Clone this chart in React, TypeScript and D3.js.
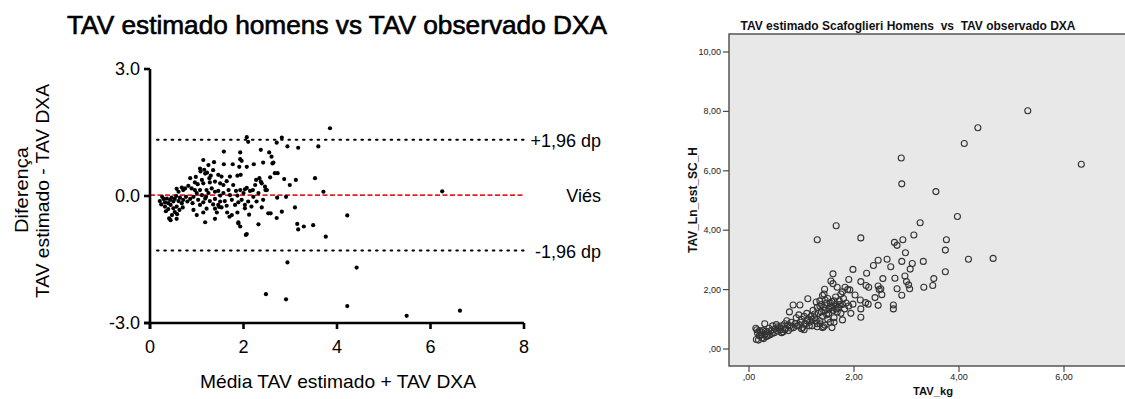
import React from "react";
import * as d3 from "d3";

// Bland-Altman: mean of the two measures (x) vs difference (y)
const blandAltmanPoints: [number, number][] = [
  [3.85, 1.6], [2.82, 1.38], [2.71, 1.26], [2.94, 1.17], [3.17, 1.14], [3.6, 1.17], [2.37, 1.09],
  [2.55, 1.03], [2.6, 0.93], [2.42, 0.79], [2.62, 0.77], [2.67, 0.54], [2.73, 0.54], [2.57, 0.44],
  [2.87, 0.4], [3.12, 0.38], [3.53, 0.42], [2.99, 0.26], [2.37, 0.34], [2.46, 0.22], [2.47, 0.14],
  [3.71, 0.1], [2.72, -0.04], [2.91, -0.02], [2.39, -0.27], [3.1, -0.27], [2.58, -0.41], [2.82, -0.37],
  [2.71, -0.52], [4.22, -0.46], [3.15, -0.66], [3.17, -0.79], [3.29, -0.72], [3.49, -0.69], [3.76, -0.96],
  [2.94, -1.57], [4.42, -1.69], [2.48, -2.32], [2.91, -2.44], [4.22, -2.6], [5.49, -2.83], [6.63, -2.71],
  [6.25, 0.11], [2.64, 0.79], [2.34, 0.42], [2.25, 0.26], [2.2, 0.14], [2.03, -0.29], [1.89, -0.65],
  [2.05, -0.92], [2.32, -0.67], [2.07, 1.39], [2.1, 1.28],
  [1.58, 1.05], [1.93, 1.03], [1.14, 0.85], [1.37, 0.8], [1.25, 0.73], [1.58, 0.75], [1.77, 0.75],
  [1.93, 0.87], [1.96, 0.83], [1.91, 0.69], [2.07, 0.69], [2.22, 0.75], [1.07, 0.65], [1.08, 0.58],
  [1.18, 0.53], [1.35, 0.61], [1.46, 0.5], [1.53, 0.46], [1.71, 0.46], [1.87, 0.48], [1.94, 0.5],
  [0.86, 0.42], [0.96, 0.32], [1.11, 0.38], [1.14, 0.3], [1.27, 0.42], [1.28, 0.32], [1.39, 0.34],
  [1.5, 0.3], [1.57, 0.26], [1.64, 0.35], [1.78, 0.26], [1.93, 0.14], [2.03, 0.16], [2.07, 0.19],
  [2.39, 0.3], [2.27, 0.38], [0.68, 0.2], [0.71, 0.14], [0.75, 0.18], [0.82, 0.24], [0.89, 0.18],
  [0.57, 0.17], [0.61, 0.1], [0.96, 0.14], [1.0, 0.07], [1.07, 0.14], [1.11, 0.02], [1.21, 0.14],
  [1.25, 0.07], [1.2, -0.02], [1.32, 0.18], [1.39, 0.1], [1.46, 0.12], [1.5, 0.01], [1.57, 0.07],
  [1.68, 0.14], [1.71, 0.02], [1.84, 0.12], [1.87, 0.01], [2.0, 0.07], [2.14, 0.12], [2.21, -0.02],
  [2.32, 0.07], [2.5, 0.14], [0.29, -0.07], [0.32, -0.15], [0.36, -0.06], [0.39, -0.17], [0.43, -0.09],
  [0.46, -0.04], [0.5, -0.13], [0.53, -0.07], [0.56, 0.0], [0.61, -0.12], [0.64, -0.04], [0.68, -0.17],
  [0.71, -0.09], [0.77, -0.02], [0.8, -0.13], [0.86, -0.07], [0.91, -0.17], [0.93, -0.02], [1.03, -0.09],
  [1.07, -0.21], [1.14, -0.15], [1.18, -0.06], [1.28, -0.12], [1.35, -0.2], [1.39, -0.07], [1.46, -0.21],
  [1.5, -0.13], [1.53, -0.27], [1.6, -0.12], [1.64, -0.23], [1.75, -0.09], [1.82, -0.21], [1.89, -0.15],
  [1.96, -0.09], [2.03, -0.21], [2.1, -0.13], [2.17, -0.25], [2.28, -0.13], [2.42, -0.09], [0.32, -0.25],
  [0.39, -0.31], [0.44, -0.21], [0.5, -0.29], [0.57, -0.25], [0.63, -0.33], [0.7, -0.27], [0.53, -0.38],
  [0.58, -0.43], [0.41, -0.53], [0.44, -0.57], [0.57, -0.54], [0.93, -0.33], [1.0, -0.45], [1.14, -0.39],
  [1.21, -0.3], [1.39, -0.3], [1.43, -0.39], [1.48, -0.26], [1.39, -0.54], [1.18, -0.62], [1.65, -0.39],
  [1.7, -0.49], [1.87, -0.39], [1.89, -0.62], [1.93, -0.72], [2.07, -0.9], [2.12, -0.44], [1.75, -0.45],
  [2.53, -0.41], [0.21, -0.12], [0.24, -0.2], [0.26, -0.02], [0.34, -0.36], [0.47, -0.45], [0.98, 0.45],
  [1.02, 0.28], [1.22, 0.55], [1.3, 0.48], [1.16, 0.62],
];

const bias = 0.02;
const upperLimit = 1.33;
const lowerLimit = -1.29;
const baXTicks = [0, 2, 4, 6, 8];
const baYTicks = [-3, 0, 3];
const limitLabels = ["+1,96 dp", "Viés", "-1,96 dp"];

// Scatter: observed TAV (x) vs estimated TAV (y)
const scatterPoints: [number, number][] = [
  [5.31, 8.02], [4.36, 7.45], [4.1, 6.92], [6.33, 6.22], [2.9, 6.43], [2.91, 5.56], [3.56, 5.3],
  [3.97, 4.46], [3.26, 4.25], [1.66, 4.15], [1.3, 3.68], [2.13, 3.74], [3.14, 3.84], [2.93, 3.68],
  [2.77, 3.59], [2.82, 3.49], [3.76, 3.68], [3.74, 3.33], [2.98, 3.24], [4.18, 3.02], [4.65, 3.05],
  [3.74, 2.6], [3.32, 2.95], [2.63, 3.02], [2.46, 2.99], [2.37, 2.81], [2.7, 2.77], [2.91, 2.95],
  [3.11, 2.88], [3.07, 2.69], [1.98, 2.68], [3.52, 2.37], [3.5, 2.14], [3.33, 2.08], [2.97, 2.46],
  [3.0, 2.27], [3.04, 2.16], [3.06, 2.03], [2.91, 1.81], [2.78, 2.38], [2.82, 2.03], [2.75, 1.48],
  [2.75, 1.35], [2.55, 2.37], [2.53, 1.83], [2.51, 2.03], [2.46, 1.47], [2.4, 1.73], [2.24, 2.55],
  [2.13, 2.27], [2.23, 2.14], [2.28, 2.08], [2.12, 1.65], [2.13, 1.35], [2.13, 1.07], [2.22, 1.56],
  [2.27, 1.51], [1.94, 1.2], [1.98, 1.51], [1.92, 1.99], [2.02, 1.82], [1.9, 2.34], [1.83, 2.08],
  [1.78, 1.93], [1.6, 2.53], [1.56, 2.29], [1.68, 2.08], [1.78, 0.98], [1.62, 0.9], [1.58, 0.72],
  [1.44, 2.01], [1.43, 1.85], [1.12, 1.69], [0.97, 1.48], [0.84, 1.48], [0.77, 1.25], [2.46, 2.12],
  [2.48, 2.0],
  [0.13, 0.7], [0.15, 0.65], [0.14, 0.32], [0.18, 0.3], [0.2, 0.45], [0.22, 0.55], [0.25, 0.38],
  [0.27, 0.62], [0.3, 0.85], [0.3, 0.5], [0.33, 0.42], [0.35, 0.58], [0.38, 0.7], [0.4, 0.48],
  [0.42, 0.62], [0.45, 0.78], [0.48, 0.55], [0.5, 0.68], [0.52, 0.82], [0.55, 0.6], [0.58, 0.72],
  [0.6, 0.65], [0.62, 0.78], [0.65, 0.58], [0.68, 0.85], [0.7, 0.7], [0.72, 0.95], [0.75, 0.62],
  [0.78, 0.78], [0.8, 0.9], [0.85, 0.72], [0.88, 0.85], [0.9, 1.05], [0.92, 0.78], [0.95, 1.15],
  [0.98, 0.9], [1.0, 1.0], [1.02, 0.72], [1.05, 1.1], [1.05, 0.65], [1.08, 0.85], [1.1, 1.2],
  [1.12, 1.0], [1.15, 0.9], [1.18, 1.1], [1.2, 0.78], [1.22, 1.3], [1.25, 1.05], [1.28, 1.58],
  [1.3, 0.85], [1.3, 1.4], [1.32, 1.2], [1.35, 1.62], [1.35, 0.95], [1.38, 1.5], [1.4, 1.1],
  [1.4, 1.8], [1.42, 0.75], [1.45, 1.3], [1.48, 1.55], [1.5, 1.0], [1.5, 1.7], [1.52, 1.2],
  [1.55, 1.45], [1.55, 0.9], [1.58, 1.6], [1.6, 1.3], [1.6, 2.2], [1.62, 1.05], [1.65, 1.5],
  [1.65, 1.75], [1.68, 1.25], [1.7, 1.4], [1.72, 1.62], [1.75, 1.2], [1.75, 1.85], [1.78, 1.5],
  [1.8, 1.7], [1.82, 1.35], [1.85, 1.55], [1.88, 2.0], [1.9, 1.45], [1.35, 0.85], [1.4, 0.72],
  [1.45, 0.8], [1.3, 0.75], [0.16, 0.55], [0.2, 0.62], [0.24, 0.48], [0.28, 0.35], [0.32, 0.6],
  [0.36, 0.45], [0.44, 0.52], [0.55, 0.75], [0.62, 0.55], [0.68, 0.65], [0.74, 0.8], [0.8, 0.7],
  [0.95, 0.8], [1.0, 0.68], [1.1, 0.95], [1.15, 0.78], [1.2, 1.0], [1.25, 1.18], [1.28, 0.95],
  [1.38, 1.25], [1.42, 1.4], [1.48, 1.15], [1.52, 1.35], [1.58, 1.4], [1.62, 1.62], [1.66, 1.35],
  [1.72, 1.5], [1.45, 1.65], [1.35, 1.45], [1.55, 1.55],
];

const scXTicks = [0, 2, 4, 6];
const scYTicks = [0, 2, 4, 6, 8, 10];

const narrow = "'Liberation Sans Narrow', 'Liberation Sans', Arial, sans-serif";
const commaFmt = (v: number) => (v === 0 ? ",00" : v.toFixed(2).replace(".", ","));

function BlandAltman() {
  const x = d3.scaleLinear().domain([0, 8]).range([150, 524]);
  const y = d3.scaleLinear().domain([-3, 3]).range([323, 69]);
  const limits = [upperLimit, bias, lowerLimit];
  return (
    <g fontFamily={narrow} fill="#000">
      <text x={337} y={34} fontSize={25} stroke="#000" strokeWidth={0.6} textAnchor="middle" textLength={540} lengthAdjust="spacingAndGlyphs">
        TAV estimado homens vs TAV observado DXA
      </text>

      {/* limits of agreement */}
      <line x1={157} x2={x(8)} y1={y(upperLimit)} y2={y(upperLimit)} stroke="#000" strokeWidth={2} strokeDasharray="1.6 5.7" strokeLinecap="round" />
      <line x1={157} x2={x(8)} y1={y(lowerLimit)} y2={y(lowerLimit)} stroke="#000" strokeWidth={2} strokeDasharray="1.6 5.7" strokeLinecap="round" />
      <line x1={x(0)} x2={x(8)} y1={y(bias)} y2={y(bias)} stroke="#e8201e" strokeWidth={1.6} strokeDasharray="5 2.5" />

      {blandAltmanPoints.map(([mx, dy], i) => (
        <circle key={i} cx={x(mx)} cy={y(dy)} r={2.1} fill="#000" />
      ))}

      {/* axes */}
      <line x1={x(0)} x2={x(0)} y1={y(3)} y2={y(-3) + 6} stroke="#000" strokeWidth={2.6} />
      <line x1={x(0) - 6} x2={x(8)} y1={y(-3)} y2={y(-3)} stroke="#000" strokeWidth={2.6} />
      {baYTicks.map((t) => (
        <g key={t}>
          <line x1={x(0) - 6} x2={x(0)} y1={y(t)} y2={y(t)} stroke="#000" strokeWidth={2.6} />
          <text x={140} y={y(t) + 6} fontSize={18} textAnchor="end">
            {t.toFixed(1)}
          </text>
        </g>
      ))}
      {baXTicks.map((t) => (
        <g key={t}>
          <line x1={x(t)} x2={x(t)} y1={y(-3)} y2={y(-3) + 6} stroke="#000" strokeWidth={2.6} />
          <text x={x(t)} y={353} fontSize={18} textAnchor="middle">
            {t}
          </text>
        </g>
      ))}

      {limits.map((v, i) => (
        <text key={i} x={601} y={y(v) + 7} fontSize={18} textAnchor="end">
          {limitLabels[i]}
        </text>
      ))}

      <text x={338} y={388} fontSize={19} textAnchor="middle" textLength={276} lengthAdjust="spacingAndGlyphs">
        Média TAV estimado + TAV DXA
      </text>
      <text transform="translate(28,190) rotate(-90)" fontSize={19} textAnchor="middle" textLength={86} lengthAdjust="spacingAndGlyphs">
        Diferença
      </text>
      <text transform="translate(49,191) rotate(-90)" fontSize={19} textAnchor="middle" textLength={214} lengthAdjust="spacingAndGlyphs">
        TAV estimado - TAV DXA
      </text>
    </g>
  );
}

function Scatter() {
  const x = d3.scaleLinear().domain([0, 6]).range([749, 1064]);
  const y = d3.scaleLinear().domain([0, 10]).range([349, 52]);
  const left = 729;
  const top = 34;
  const bottom = 366;
  const right = 1126;
  return (
    <g fontFamily={narrow}>
      <rect x={left} y={top} width={right - left} height={bottom - top} fill="#e8e8e8" stroke="#4a4a4a" strokeWidth={1.4} />
      {scatterPoints.map(([ox, ey], i) => (
        <circle key={i} cx={x(ox)} cy={y(ey)} r={3} fill="none" stroke="#333" strokeWidth={1.1} />
      ))}
      {scYTicks.map((t) => (
        <g key={t}>
          <line x1={left - 6} x2={left} y1={y(t)} y2={y(t)} stroke="#4a4a4a" strokeWidth={1.2} />
          <text x={721} y={y(t) + 3} fontSize={9} textAnchor="end" fill="#222">
            {commaFmt(t)}
          </text>
        </g>
      ))}
      {scXTicks.map((t) => (
        <g key={t}>
          <line x1={x(t)} x2={x(t)} y1={bottom} y2={bottom + 6} stroke="#4a4a4a" strokeWidth={1.2} />
          <text x={x(t)} y={380} fontSize={9} textAnchor="middle" fill="#222">
            {commaFmt(t)}
          </text>
        </g>
      ))}
      <text x={908} y={30} fontSize={13} fontWeight="bold" textAnchor="middle" textLength={335} lengthAdjust="spacingAndGlyphs" fill="#111" xmlSpace="preserve">
        TAV estimado Scafoglieri Homens  vs  TAV observado DXA
      </text>
      <text transform="translate(697,200) rotate(-90)" fontSize={12} fontWeight="bold" textAnchor="middle" textLength={106} lengthAdjust="spacingAndGlyphs" fill="#111">
        TAV_Ln_est_SC_H
      </text>
      <text x={933} y={395} fontSize={11} fontWeight="bold" textAnchor="middle" textLength={40} lengthAdjust="spacingAndGlyphs" fill="#111">
        TAV_kg
      </text>
    </g>
  );
}

export default function App() {
  return (
    <svg
      width={1125}
      height={399}
      viewBox="0 0 1125 399"
      style={{ position: "absolute", left: 0, top: 0, background: "#fff" }}
    >
      <BlandAltman />
      <Scatter />
    </svg>
  );
}
